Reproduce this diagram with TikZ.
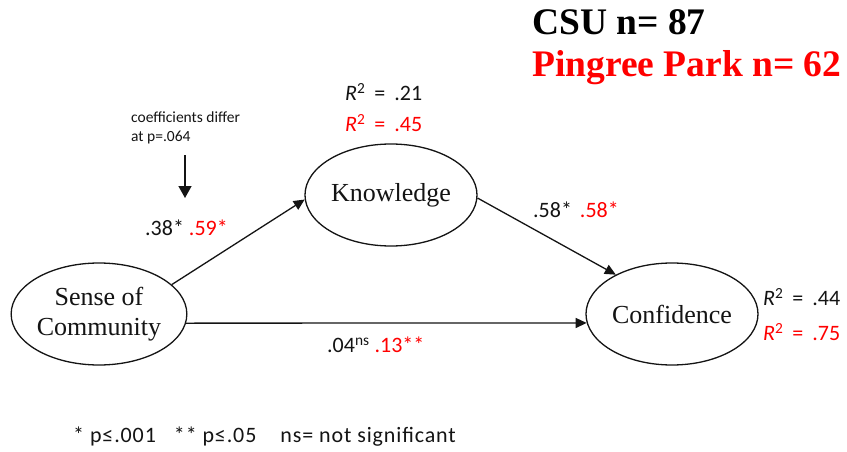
\documentclass[tikz,border=0pt]{standalone}
\usepackage{fontspec}
\setmainfont{Liberation Serif}
\newfontfamily\calib{Carlito}
\newfontfamily\calibwide[LetterSpace=4]{Carlito}
\usetikzlibrary{shapes.geometric,arrows.meta}
\definecolor{rd}{RGB}{255,0,0}
\definecolor{ink}{RGB}{20,20,20}
\newcommand{\rsq}[1]{\textit{R}\textsuperscript{2}\hspace{9pt}=\hspace{9pt}#1}
\begin{document}
\begin{tikzpicture}[x=1pt,y=-1pt,
  ell/.style={ellipse,draw=ink,line width=1.3pt,minimum width=172pt,minimum height=102pt,inner sep=0pt,
    align=center,font=\fontsize{26}{30}\selectfont,text=ink},
  lab/.style={inner sep=0pt,anchor=west,font=\calib\fontsize{22}{26}\selectfont,text=ink},
  rlab/.style={lab,text=rd},
  conn/.style={draw=ink,line width=1.3pt,-{Triangle[length=11pt,width=10pt]}},
  title/.style={inner sep=0pt,anchor=west,font=\bfseries\fontsize{37.5}{40}\selectfont}]
\useasboundingbox (0,0) rectangle (847,452);
\fill[white] (0,0) rectangle (847,452);

% titles
\node[title,text=black] (csu) at (532,22) {CSU n= 87};
\node[title,text=rd] (pp) at (532,68) {Pingree Park n= 62};

% ellipses
\node[ell] (soc) at (99,314) {Sense of\\Community};
\node[ell] (know) at (391,195) {Knowledge};
\node[ell] (conf) at (672,314) {Confidence};

% connectors
\draw[conn] (soc.22) -- (know.183);
\draw[conn] (know.-2) -- (conf.145);
\draw[conn] (soc.-6) -- (conf.186);

% note
\node[inner sep=0pt,anchor=north west,align=left,font=\calib\fontsize{15.5}{19}\selectfont,text=ink] (note) at (131,112) {coefficients differ\\at p=.064};
\coordinate (va1) at (185,155);
\coordinate (va2) at (185,198);
\draw[draw=ink,line width=1.5pt,-{Triangle[length=12pt,width=13pt]}] (va1) -- (va2);

% coefficients
\node[lab] (c1) at (145,228) {.38* \textcolor{rd}{.59*}};
\node[lab] (c2) at (533,210) {.58*\hspace{3pt} \textcolor{rd}{.58*}};
\node[lab] (c3) at (327,345) {.04\textsuperscript{ns} \textcolor{rd}{.13**}};

% R squared
\node[lab] (r1) at (345,92) {\rsq{.21}};
\node[rlab] (r2) at (345,123) {\rsq{.45}};
\node[lab] (r3) at (763,297) {\rsq{.44}};
\node[rlab] (r4) at (763,332) {\rsq{.75}};

% footnote
\node[lab,font=\calibwide\fontsize{22}{26}\selectfont] (fn) at (73,437) {* p≤.001\hspace{18pt}** p≤.05\hspace{24pt}ns= not significant};
\end{tikzpicture}
\end{document}
